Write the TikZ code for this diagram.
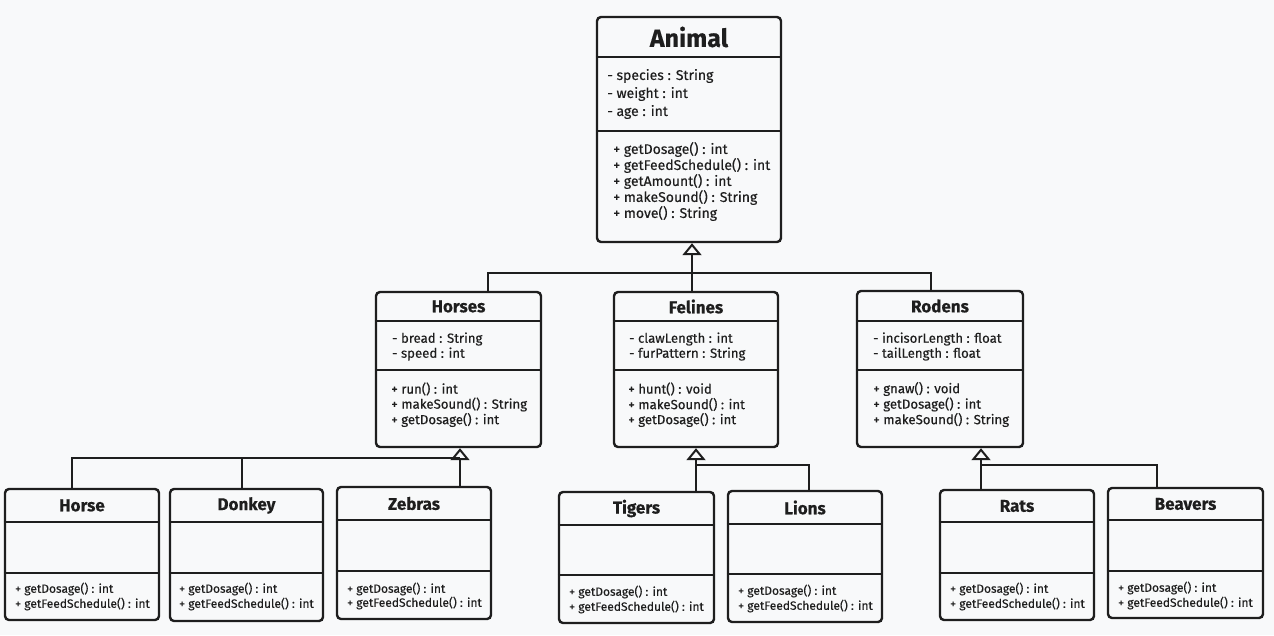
\documentclass[tikz,border=0pt]{standalone}
\usepackage{fontspec}
\setmainfont{Fira Sans}[FakeBold=0.35]
\usetikzlibrary{arrows.meta,fit,calc}

\definecolor{paper}{HTML}{F8F9FA}
\definecolor{ink}{HTML}{1E1E1E}

\tikzset{
  classbox/.style={draw=ink, line width=2.4pt, rounded corners=4pt, inner sep=0pt},
  divider/.style={draw=ink, line width=2.2pt},
  conn/.style={draw=ink, line width=2.2pt},
  inherit/.style={conn, -{Triangle[open, width=19pt, length=12pt, line width=2pt]}},
  bigtitle/.style={font=\fontsize{25}{29}\selectfont\bfseries, text=ink, inner sep=0pt},
  midtitle/.style={font=\fontsize{17}{20}\selectfont\bfseries, text=ink, inner sep=0pt},
  smalltitle/.style={font=\fontsize{17}{20}\selectfont\bfseries, text=ink, inner sep=0pt},
  bigmember/.style={font=\fontsize{14}{17}\selectfont, text=ink, inner sep=0pt},
  midmember/.style={font=\fontsize{13.2}{15}\selectfont, text=ink, inner sep=0pt},
  smallmember/.style={font=\fontsize{12}{14}\selectfont, text=ink, inner sep=0pt},
}

% name, left, top, right, bottom, first divider, second divider, title, title style
\newcommand\umlclass[9]{%
  \node[classbox, fit={(#2,#3) (#4,#5)}] (#1) {};
  \draw[divider] (#1.west |- 0,#6) -- (#1.east |- 0,#6);
  \draw[divider] (#1.west |- 0,#7) -- (#1.east |- 0,#7);
  \node[#9] (#1-title) at ({(#2+#4)/2}, {(#3+#6)/2}) {#8};
}
% name prefix, x, first line y, line step, style, lines
\newcommand\memberlines[6]{%
  \foreach \mtext [count=\i from 0] in {#6} {
    \node[#5, anchor=west] (#1-\i) at (#2, {#3+\i*#4}) {\mtext};
  }
}

\begin{document}
\begin{tikzpicture}[x=1pt, y=-1pt]
  \fill[paper] (0,0) rectangle (1274,635);
  \useasboundingbox (0,0) rectangle (1274,635);

  % root class
  \umlclass{animal}{597}{17}{781}{242}{57}{131}{Animal}{bigtitle}
  \memberlines{animal-attr}{607}{76}{18}{bigmember}{- species : String, - weight : int, - age : int}
  \memberlines{animal-op}{613}{149.5}{16}{bigmember}{+ getDosage() : int, + getFeedSchedule() : int, + getAmount() : int, + makeSound() : String, + move() : String}

  % families
  \umlclass{horses}{376}{292}{541}{447}{321}{370}{Horses}{midtitle}
  \memberlines{horses-attr}{392}{339}{15}{midmember}{- bread : String, - speed : int}
  \memberlines{horses-op}{391}{389}{15.5}{midmember}{+ run() : int, + makeSound() : String, + getDosage() : int}

  \umlclass{felines}{614}{292}{778}{447}{321}{370}{Felines}{midtitle}
  \memberlines{felines-attr}{629}{339}{15}{midmember}{- clawLength : int, - furPattern : String}
  \memberlines{felines-op}{628}{389}{15.5}{midmember}{+ hunt() : void, + makeSound() : int, + getDosage() : int}

  \umlclass{rodens}{857}{291}{1023}{447}{321}{370}{Rodens}{midtitle}
  \memberlines{rodens-attr}{873}{339}{15}{midmember}{- incisorLength : float, - tailLength : float}
  \memberlines{rodens-op}{873}{389}{15.5}{midmember}{+ gnaw() : void, + getDosage() : int, + makeSound() : String}

  % species
  \umlclass{horse}{5}{489}{159}{620}{522}{573}{Horse}{smalltitle}
  \memberlines{horse-op}{15}{589}{15}{smallmember}{+ getDosage() : int, + getFeedSchedule() : int}
  \umlclass{donkey}{170}{489}{323}{621}{522}{573}{Donkey}{smalltitle}
  \memberlines{donkey-op}{179}{589}{15}{smallmember}{+ getDosage() : int, + getFeedSchedule() : int}
  \umlclass{zebras}{337}{487}{491}{619}{520}{571}{Zebras}{smalltitle}
  \memberlines{zebras-op}{347}{589}{14}{smallmember}{+ getDosage() : int, + getFeedSchedule() : int}

  \umlclass{tigers}{559}{492}{714}{623}{525}{575}{Tigers}{smalltitle}
  \memberlines{tigers-op}{569}{592}{15}{smallmember}{+ getDosage() : int, + getFeedSchedule() : int}
  \umlclass{lions}{728}{491}{882}{622}{524}{574}{Lions}{smalltitle}
  \memberlines{lions-op}{738}{591}{15}{smallmember}{+ getDosage() : int, + getFeedSchedule() : int}

  \umlclass{rats}{940}{490}{1094}{620}{522}{573}{Rats}{smalltitle}
  \memberlines{rats-op}{950}{589}{15}{smallmember}{+ getDosage() : int, + getFeedSchedule() : int}
  \umlclass{beavers}{1108}{488}{1263}{618}{520}{571}{Beavers}{smalltitle}
  \memberlines{beavers-op}{1118}{588}{15}{smallmember}{+ getDosage() : int, + getFeedSchedule() : int}

  % junctions of the generalisation trees
  \coordinate (jA) at (692,273);
  \coordinate (jB) at (460,458);
  \coordinate (jC) at (696,465);
  \coordinate (jD) at (981,465);

  % families -> Animal
  \draw[inherit] (felines.north -| jA) -- (animal.south -| jA);
  \draw[conn] ([xshift=113pt]horses.north west) |- (jA);
  \draw[conn] ([xshift=75pt]rodens.north west) |- (jA);

  % species -> Horses
  \draw[inherit] (zebras.north -| jB) -- (horses.south -| jB);
  \draw[conn] ([xshift=68pt]horse.north west) |- (jB);
  \draw[conn] ([xshift=73pt]donkey.north west) |- (jB);

  % species -> Felines
  \draw[inherit] (tigers.north -| jC) -- (felines.south -| jC);
  \draw[conn] ([xshift=82pt]lions.north west) |- (jC);

  % species -> Rodens
  \draw[inherit] (rats.north -| jD) -- (rodens.south -| jD);
  \draw[conn] ([xshift=50pt]beavers.north west) |- (jD);
\end{tikzpicture}
\end{document}
